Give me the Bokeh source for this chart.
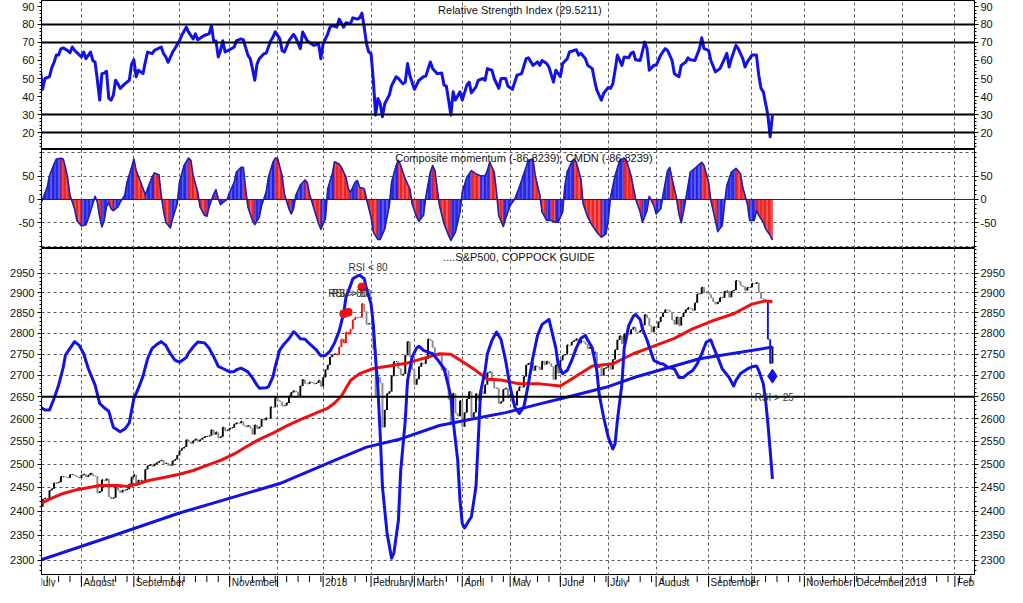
import numpy as np
from bokeh.plotting import figure
from bokeh.layouts import column
from bokeh.models import (Range1d, LinearAxis, LogAxis, FixedTicker, Span, Label,
                          Grid, PrintfTickFormatter)
from bokeh.embed import file_html
from bokeh.resources import INLINE
from bokeh.core.properties import value

FONT = "Liberation Sans"

# ---------------- x axis: trading-day index, month starts ----------------
month_day = [0, 20, 43, 63, 85, 106, 126, 147, 166, 187, 208, 230, 251, 272, 295, 314, 337, 359, 380, 403]
month_label = ["July", "August", "September", "", "November", "", "2018", "February", "March",
               "April", "May", "June", "July", "August", "September", "", "November", "December",
               "2019", "February"]

# ---------------- S&P500 daily closes (Jul 2017 .. 12 Oct 2018) ----------------
close = [
    2429, 2432, 2409, 2425, 2427, 2425, 2443, 2447, 2459, 2459, 2461, 2473, 2473, 2472, 2470, 2477, 2477, 2475, 2472, 2470,
    2476, 2478, 2472, 2476, 2480, 2475, 2474, 2438, 2441, 2466, 2464, 2468, 2430, 2426, 2428, 2453, 2444, 2439, 2444, 2444, 2446, 2457, 2472,
    2477, 2457, 2465, 2465, 2461, 2488, 2496, 2498, 2495, 2500, 2503, 2506, 2508, 2501, 2502, 2497, 2497, 2507, 2510, 2519,
    2529, 2534, 2537, 2553, 2549, 2545, 2551, 2555, 2550, 2553, 2557, 2560, 2561, 2562, 2575, 2565, 2570, 2557, 2560, 2581, 2573, 2575,
    2579, 2580, 2588, 2591, 2590, 2594, 2585, 2582, 2585, 2579, 2565, 2586, 2578, 2582, 2599, 2597, 2602, 2601, 2627, 2626, 2648,
    2642, 2639, 2629, 2630, 2636, 2652, 2660, 2664, 2662, 2652, 2675, 2690, 2681, 2680, 2684, 2683, 2680, 2682, 2688, 2674,
    2695, 2713, 2724, 2743, 2748, 2751, 2748, 2767, 2786, 2777, 2803, 2798, 2810, 2833, 2839, 2838, 2839, 2873, 2854, 2822, 2824,
    2822, 2762, 2649, 2695, 2682, 2581, 2620, 2657, 2662, 2698, 2732, 2732, 2716, 2701, 2703, 2747, 2780, 2744, 2714,
    2678, 2691, 2720, 2729, 2727, 2739, 2786, 2783, 2766, 2749, 2747, 2752, 2712, 2717, 2711, 2644, 2588, 2658, 2613, 2606, 2641,
    2582, 2614, 2645, 2662, 2604, 2614, 2657, 2642, 2664, 2657, 2678, 2706, 2708, 2693, 2670, 2670, 2635, 2639, 2667, 2670, 2648,
    2655, 2636, 2630, 2663, 2673, 2672, 2697, 2724, 2728, 2730, 2711, 2722, 2720, 2713, 2733, 2725, 2733, 2728, 2721, 2690, 2724, 2705,
    2735, 2747, 2749, 2772, 2771, 2779, 2782, 2787, 2776, 2782, 2780, 2774, 2763, 2767, 2750, 2755, 2718, 2723, 2699, 2716, 2718,
    2727, 2714, 2737, 2760, 2784, 2794, 2775, 2798, 2801, 2798, 2809, 2815, 2804, 2802, 2807, 2820, 2846, 2838, 2819, 2803, 2816,
    2813, 2828, 2840, 2850, 2858, 2857, 2853, 2833, 2822, 2840, 2819, 2840, 2850, 2858, 2863, 2861, 2856, 2875, 2897, 2898, 2914, 2901, 2902,
    2896, 2888, 2878, 2872, 2877, 2888, 2888, 2904, 2905, 2889, 2904, 2907, 2931, 2930, 2919, 2916, 2906, 2914, 2914,
    2924, 2923, 2926, 2902, 2886, 2884, 2881, 2786, 2728, 2767,
]
hot_days = [132, 133, 134, 135, 136, 137, 138, 139, 140, 141, 142, 143]   # RSI > 80 (red bars)
cold_days = [321, 322]                                                      # RSI < 25 (blue bars)

# ---------------- RSI ----------------
rsi_day = [2, 3, 4, 6, 7, 8, 9, 10, 11, 12,
           14, 15, 16, 17, 20, 21, 22, 24, 25, 26,
           27, 28, 29, 30, 31, 32, 33, 34, 35, 36,
           37, 39, 41, 42, 43, 44, 45, 47, 48, 49,
           51, 52, 55, 56, 57, 58, 60, 61, 63, 64,
           66, 67, 69, 70, 71, 74, 76, 77, 78, 79,
           80, 81, 82, 83, 85, 87, 88, 90, 91, 93,
           94, 95, 96, 97, 98, 100, 101, 103, 104, 105,
           107, 108, 109, 111, 113, 114, 116, 117, 119, 120,
           122, 124, 125, 126, 128, 129, 130, 132, 133, 135,
           136, 138, 139, 141, 142, 143, 144, 145, 146, 147,
           148, 149, 150, 151, 152, 153, 155, 156, 158, 159,
           161, 162, 163, 164, 166, 168, 170, 171, 173, 174,
           176, 178, 179, 180, 181, 182, 183, 184, 186, 187,
           189, 190, 191, 193, 194, 196, 197, 198, 200, 201,
           203, 204, 206, 207, 209, 211, 213, 215, 216, 218,
           220, 221, 222, 224, 225, 227, 228, 230, 231, 233,
           234, 237, 238, 239, 241, 242, 244, 245, 246, 248,
           249, 251, 252, 253, 254, 255, 257, 258, 260, 261,
           262, 263, 265, 267, 268, 269, 271, 272, 274, 276,
           277, 279, 280, 282, 283, 285, 286, 287, 289, 291,
           292, 293, 295, 296, 298, 300, 302, 303, 304, 305,
           307, 308, 310, 311, 312, 314, 316, 317, 318, 319,
           321, 322, 323]
rsi_val = [55, 44, 50, 51, 56, 59, 63, 63, 66.5, 67,
           65.5, 64.3, 67.5, 65.6, 62, 64.7, 61, 64.7, 60, 59,
           49, 38, 52.7, 53, 54, 39, 38, 40.8, 49, 47,
           44.5, 47, 49, 58, 60.5, 51, 54.6, 52.7, 59, 64.7,
           63.8, 65.6, 67.5, 63.8, 62, 59, 64.7, 66.6, 71, 74,
           78.5, 75.8, 72, 74.8, 71.5, 74, 74.8, 79.4, 71, 70.8,
           62, 65.6, 71, 64.7, 66, 67.5, 71, 72, 71.5, 63,
           61, 55.5, 49, 58, 61, 63.8, 64, 71, 73, 76,
           72, 65.6, 64.7, 71, 74.5, 72.6, 66.6, 75.8, 71, 70,
           68.4, 69.3, 61, 69.3, 74.8, 78.5, 79.4, 78.5, 83, 78.5,
           81, 80.4, 83.7, 83, 83.7, 86.3, 78.5, 69.3, 64.7, 63.8,
           49, 29.7, 38.9, 36, 28.8, 36, 40.8, 46, 51, 50,
           47, 48, 58.3, 51.8, 44, 49, 51, 51.3, 59.2, 55.5,
           52.7, 53, 46.3, 45.8, 38, 29.7, 42.6, 38, 42.6, 38,
           46.3, 48, 42, 45.4, 49, 50, 49, 55.5, 54.6, 50,
           44.5, 50, 50, 45.8, 44, 51.8, 52.7, 61, 61.5, 57.3,
           59.2, 57.3, 60, 58.3, 56.4, 48, 54.6, 51, 58.3, 61,
           64.7, 66, 63, 64, 61, 57.3, 55.5, 49, 43.5, 38,
           41.8, 45, 44.5, 47, 54.6, 63, 57.3, 62, 61.5, 64,
           64.7, 60.4, 60, 70.2, 66.6, 54.6, 57.3, 57.3, 63, 66.6,
           65.6, 60, 52.7, 51, 57.3, 59.2, 61.5, 60.4, 60, 66.6,
           72.6, 66.6, 65.6, 60, 53.7, 55.5, 61, 64, 56.4, 61,
           68.4, 66.6, 61, 56.4, 59.2, 63, 63, 51.8, 44.5, 42.6,
           29.7, 17.6, 29.5]
rsi_levels = [80, 70, 30, 20]
rsi_ticks = [20, 30, 40, 50, 60, 70, 80, 90]

# ---------------- Composite momentum ----------------
mom_day = [2, 3, 5, 6, 8, 9, 11, 12, 13, 14,
           15, 17, 18, 20, 22, 23, 25, 26, 27, 28,
           29, 30, 31, 32, 33, 34, 36, 37, 39, 40,
           42, 43, 44, 46, 48, 49, 51, 52, 54, 55,
           56, 57, 59, 60, 62, 63, 65, 67, 68, 69,
           71, 72, 74, 75, 76, 78, 79, 80, 81, 82,
           84, 85, 87, 88, 90, 91, 92, 93, 95, 96,
           98, 99, 101, 102, 104, 105, 106, 108, 109, 111,
           112, 113, 114, 116, 118, 119, 120, 122, 124, 125,
           127, 128, 130, 131, 133, 134, 136, 137, 138, 140,
           141, 142, 144, 145, 147, 148, 150, 151, 153, 155,
           156, 158, 159, 160, 162, 164, 165, 167, 168, 170,
           171, 173, 174, 175, 176, 177, 179, 181, 182, 184,
           186, 187, 189, 191, 193, 195, 197, 198, 199, 201,
           202, 203, 205, 206, 208, 210, 212, 214, 216, 218,
           219, 221, 222, 224, 226, 228, 229, 231, 232, 233,
           235, 236, 237, 239, 240, 242, 244, 246, 248, 250,
           251, 252, 254, 256, 258, 259, 261, 263, 265, 266,
           268, 269, 271, 272, 274, 275, 277, 278, 279, 281,
           282, 283, 284, 286, 287, 290, 292, 293, 295, 296,
           298, 299, 301, 302, 303, 305, 307, 309, 310, 312,
           313, 315, 316, 317, 319, 320, 322, 323]
mom_val = [-11, 1, 26, 51, 76, 87, 88.6, 87, 69, 44,
           9, -20, -45, -57, -54, -41, -9, 7, -6, -38,
           -59, -45, -16, -7, -20, -24, -16, -6, 9, 37,
           69, 87, 62, 37, 10, 23, 48, 57, 53, 9,
           -24, -49, -61, -41, -9, 37, 73, 89, 84, 51,
           16, -16, -34, -36, -16, 12, 21, 1, -11, -7,
           1, 16, 37, 59, 69, 69, 23, -16, -45, -54,
           -38, -13, 16, 48, 80, 89, 88.6, 51, 12, -20,
           -31, -20, 9, 31, 42, 37, 12, -20, -52, -64,
           -41, 23, 55, 81, 76, 69, 48, 23, 16, 37,
           41, 26, 23, 1, -38, -70, -86, -86, -63, -13,
           37, 73, 84, 73, 44, 23, -9, -38, -47, -34,
           5, 59, 73, 62, 23, -13, -52, -77, -88, -70,
           -27, 16, 48, 62, 55, 51, 51, 62, 80, 59,
           16, -35, -58, -41, -13, 1, 26, 55, 84, 87,
           51, 9, -27, -45, -45, -49, -49, -27, 30, 59,
           81, 87, 80, 44, -9, -38, -56, -70, -81, -74,
           -45, 5, 51, 84, 89, 84, 51, 1, -27, -49,
           -24, 7, -13, -31, -20, 9, 62, 69, 44, 1,
           -31, -50, -27, 30, 59, 71, 80, 73, 37, -2,
           -45, -69, -56, -9, 30, 59, 67, 55, 26, -9,
           -45, -45, -24, -34, -49, -63, -77, -87]
mom_ticks = [-50, 0, 50]
mom_grid = [-100, -50, 50, 100]

# ---------------- Coppock guide ----------------
cop_day = [2, 4, 6, 8, 10, 12, 13, 15, 17, 19,
           21, 23, 26, 28, 30, 32, 34, 37, 39, 41,
           43, 45, 47, 49, 51, 53, 55, 57, 59, 61,
           63, 66, 67, 69, 71, 74, 76, 78, 80, 82,
           85, 87, 88, 90, 93, 95, 97, 98, 101, 102,
           104, 105, 107, 109, 111, 113, 114, 116, 118, 120,
           123, 125, 127, 129, 131, 133, 135, 136, 138, 139,
           141, 142, 144, 145, 147, 148, 149, 150, 151, 152,
           154, 156, 157, 159, 160, 162, 163, 165, 167, 168,
           170, 172, 174, 176, 179, 180, 182, 183, 185, 186,
           187, 188, 190, 191, 193, 194, 195, 197, 198, 200,
           202, 204, 206, 208, 210, 212, 214, 216, 218, 220,
           222, 225, 226, 228, 229, 231, 233, 235, 237, 239,
           241, 242, 244, 246, 247, 249, 251, 253, 254, 255,
           257, 258, 260, 262, 263, 265, 266, 268, 270, 271,
           274, 275, 277, 280, 282, 284, 286, 288, 290, 292,
           294, 296, 297, 299, 301, 304, 306, 307, 309, 312,
           314, 316, 317, 319, 320, 321, 322, 323]
cop_val = [2627, 2620, 2620, 2646, 2677, 2718, 2748, 2764, 2780, 2771,
           2751, 2716, 2677, 2635, 2625, 2617, 2581, 2571, 2577, 2591,
           2646, 2670, 2698, 2739, 2764, 2773, 2780, 2771, 2751, 2736,
           2731, 2742, 2753, 2767, 2779, 2777, 2764, 2744, 2721, 2716,
           2708, 2709, 2713, 2717, 2708, 2694, 2677, 2670, 2671, 2673,
           2697, 2721, 2760, 2775, 2787, 2804, 2800, 2787, 2786, 2775,
           2760, 2746, 2747, 2757, 2777, 2805, 2850, 2889, 2919, 2936,
           2943, 2945, 2936, 2911, 2873, 2820, 2740, 2670, 2566, 2451,
           2355, 2304, 2314, 2381, 2486, 2596, 2688, 2743, 2765, 2769,
           2759, 2755, 2751, 2738, 2716, 2695, 2651, 2596, 2508, 2423,
           2374, 2365, 2381, 2388, 2451, 2552, 2660, 2711, 2751, 2783,
           2803, 2785, 2735, 2673, 2627, 2612, 2627, 2680, 2743, 2795,
           2822, 2834, 2811, 2765, 2727, 2704, 2711, 2735, 2765, 2788,
           2795, 2784, 2765, 2711, 2657, 2603, 2559, 2533, 2544, 2596,
           2680, 2765, 2819, 2842, 2846, 2834, 2811, 2784, 2751, 2735,
           2727, 2727, 2719, 2715, 2695, 2695, 2704, 2711, 2727, 2751,
           2779, 2784, 2769, 2743, 2715, 2695, 2675, 2688, 2704, 2715,
           2720, 2722, 2711, 2680, 2642, 2590, 2530, 2468]

# ---------------- moving averages ----------------
ma50_day = [2, 6, 12, 18, 24, 28, 36, 40, 44, 49,
            55, 63, 69, 75, 81, 87, 93, 98, 104, 110,
            116, 122, 128, 131, 134, 138, 142, 148, 155, 163,
            170, 177, 182, 188, 193, 198, 204, 212, 221, 230,
            236, 244, 253, 262, 271, 280, 288, 297, 306, 314,
            320, 323]
ma50_val = [2415, 2425, 2437, 2445, 2450, 2454, 2454, 2452, 2456, 2464,
            2470, 2478, 2486, 2497, 2508, 2522, 2540, 2554, 2568, 2584,
            2598, 2611, 2624, 2636, 2652, 2688, 2704, 2716, 2722, 2729,
            2740, 2751, 2750, 2729, 2711, 2691, 2689, 2680, 2680, 2675,
            2695, 2722, 2727, 2751, 2769, 2788, 2811, 2831, 2848, 2872,
            2880, 2878]
ma200_day = [2, 28, 63, 107, 131, 145, 160, 177, 192, 206, 221, 235, 250, 263, 291, 323]
ma200_val = [2300, 2340, 2396, 2458, 2508, 2537, 2555, 2585, 2600, 2614, 2634, 2652, 2672, 2696, 2739, 2767]

# ---------------- signals ----------------
sig_hi_day = [135, 137]
sig_hi_price = [2848, 2852]
sig_lo_day = [143]
sig_lo_price = [2915]
sig_buy_day = [323]
sig_buy_price = [2698]

price_ticks = [2300, 2350, 2400, 2450, 2500, 2550, 2600, 2650, 2700, 2750, 2800, 2850, 2900, 2950]
guide_level = 2650

# ---------------- layout / style ----------------
W = 1007
BORDER_L = 41
BORDER_R = 32
xr = Range1d(2.497, 411.6)
BLUE = "#1212e6"
RED = "#ee1010"
GRID = "#5a5a5a"


def panel(h, yr, log=False):
    p = figure(width=W, height=h, x_range=xr, y_range=yr,
               y_axis_type="log" if log else "linear", x_axis_location=None,
               output_backend="svg", toolbar_location=None,
               min_border_left=BORDER_L, min_border_right=BORDER_R,
               min_border_top=0, min_border_bottom=0)
    p.grid.visible = False
    p.outline_line_color = "black"
    p.outline_line_width = 1
    p.background_fill_color = "white"
    p.border_fill_color = "white"
    p.add_layout(Grid(dimension=0, ticker=FixedTicker(ticks=month_day),
                      grid_line_color=GRID, grid_line_dash="3 3", grid_line_width=1))
    return p


def y_axes(p, ticks, minor, log=False):
    right = LogAxis() if log else LinearAxis()
    p.add_layout(right, "right")
    for ax in p.yaxis:
        ax.ticker = FixedTicker(ticks=ticks, minor_ticks=minor)
        ax.formatter = PrintfTickFormatter(format="%d")
        ax.major_label_text_font = FONT
        ax.major_label_text_font_size = "11px"
        ax.major_label_text_color = "#111111"
        ax.major_label_standoff = 3
        ax.major_tick_in = 0
        ax.major_tick_out = 4
        ax.minor_tick_in = 0
        ax.minor_tick_out = 2
        ax.axis_line_color = "black"
        ax.major_tick_line_color = "black"
        ax.minor_tick_line_color = "black"
    right.major_label_standoff = 2


def note(p, x, y, text, size="11px", color="#111111"):
    p.add_layout(Label(x=x, y=y, text=text, text_font=FONT, text_font_size=size,
                       text_color=color, text_baseline="middle", text_align="left"))


# ---- RSI panel ----
p1 = panel(149, Range1d(10.56, 93.33))
y_axes(p1, rsi_ticks, list(range(12, 94, 2)))
for lv in rsi_levels:
    p1.add_layout(Span(location=lv, dimension="width", line_color="black", line_width=2))
p1.line(rsi_day, rsi_val, line_color=BLUE, line_width=3, line_join="round")
note(p1, 176.4, 87.8, "Relative Strength Index (29.5211)")

# ---- Momentum panel ----
p2 = panel(99, Range1d(-105.2, 107.3))
y_axes(p2, mom_ticks, list(range(-100, 101, 10)))
p2.add_layout(Grid(dimension=1, ticker=FixedTicker(ticks=mom_grid),
                   grid_line_color=GRID, grid_line_dash="3 3", grid_line_width=1))
xs, ys, cols = [], [], []
for k in range(len(mom_day) - 1):
    x0, x1 = mom_day[k], mom_day[k + 1]
    y0, y1 = mom_val[k], mom_val[k + 1]
    xs.append([x0, x0, x1, x1])
    ys.append([0, y0, y1, 0])
    cols.append(BLUE if y1 >= y0 else RED)
p2.patches(xs, ys, fill_color=cols, line_color=cols, line_width=0.5, fill_alpha=0.9,
           hatch_pattern="|", hatch_color="white", hatch_alpha=0.45, hatch_scale=4, hatch_weight=1)
p2.add_layout(Span(location=0, dimension="width", line_color=BLUE, line_width=1))
p2.segment(x0=[mom_day[0]], y0=[0], x1=[mom_day[-1]], y1=[0], line_color=RED, line_width=1)
p2.line(mom_day, mom_val, line_color="#2020b0", line_width=1.6, line_join="round")
note(p2, 157.6, 88, "Composite momentum (-86.8239), CMDN (-86.8239)")

# ---- Price panel ----
price_minor = list(range(2270, 3011, 10))
p3 = panel(327, Range1d(2269.6, 3013.9), log=True)
y_axes(p3, price_ticks, price_minor, log=True)
p3.add_layout(Grid(dimension=1, ticker=FixedTicker(ticks=price_ticks),
                   grid_line_color=GRID, grid_line_dash="3 3", grid_line_width=1))
p3.add_layout(Span(location=guide_level, dimension="width", line_color="black", line_width=2))

days = list(range(len(close)))
opens = [close[0]] + close[:-1]
bar_cols = []
for d in days:
    if d in cold_days:
        bar_cols.append(BLUE)
    elif d in hot_days:
        bar_cols.append(RED)
    elif close[d] >= opens[d]:
        bar_cols.append("black")
    else:
        bar_cols.append("#8a8a8a")
p3.segment(x0=days, y0=opens, x1=days, y1=close, line_color=bar_cols, line_width=1.9)
p3.segment(x0=days, y0=close, x1=[d + 0.5 for d in days], y1=close, line_color=bar_cols, line_width=1.2)

p3.line(ma200_day, ma200_val, line_color=BLUE, line_width=3, line_join="round")
p3.line(ma50_day, ma50_val, line_color=RED, line_width=3, line_join="round")
p3.line(cop_day, cop_val, line_color=BLUE, line_width=3, line_join="round")

p3.scatter(sig_hi_day, sig_hi_price, marker="circle", size=8, fill_color=RED, line_color=RED)
p3.scatter(sig_lo_day, sig_lo_price, marker="circle", size=8, fill_color=RED, line_color=RED)
p3.scatter(sig_buy_day, sig_buy_price, marker="diamond", size=14, fill_color=BLUE, line_color=BLUE)

note(p3, 128.2, 2899, "RSI > 80", "10px", "#333333")
note(p3, 129.8, 2899, "RSI > 80", "10px", "#333333")
note(p3, 137.1, 2964, "RSI < 80", "10px", "#333333")
note(p3, 315.2, 2648, "RSI > 25", "10px", "#333333")
note(p3, 178.6, 2993, "....S&P500, COPPOCK GUIDE", "11px", "#111111")

# ---- month label strip ----
p4 = figure(width=W, height=12, x_range=xr, y_range=Range1d(0, 1),
            x_axis_location=None, y_axis_location=None,
            output_backend="svg", toolbar_location=None,
            min_border_left=BORDER_L, min_border_right=BORDER_R,
            min_border_top=0, min_border_bottom=0)
p4.outline_line_color = None
p4.grid.visible = False
n = len(month_day)
p4.segment(x0=month_day, y0=[0] * n, x1=month_day, y1=[1] * n, line_color="black", line_width=1)
wk = list(np.arange(0, 415, 5))
p4.segment(x0=wk, y0=[0.45] * len(wk), x1=wk, y1=[1] * len(wk), line_color="black", line_width=1)
p4.text(x=month_day, y=[0.42] * n, text=month_label, x_offset=2,
        text_font=value(FONT), text_font_size=value("10px"), text_color="#111111",
        text_baseline="middle", text_align="left")

layout = column(p1, p2, p3, p4, spacing=0)
open("out.html", "w").write(file_html(layout, INLINE))
